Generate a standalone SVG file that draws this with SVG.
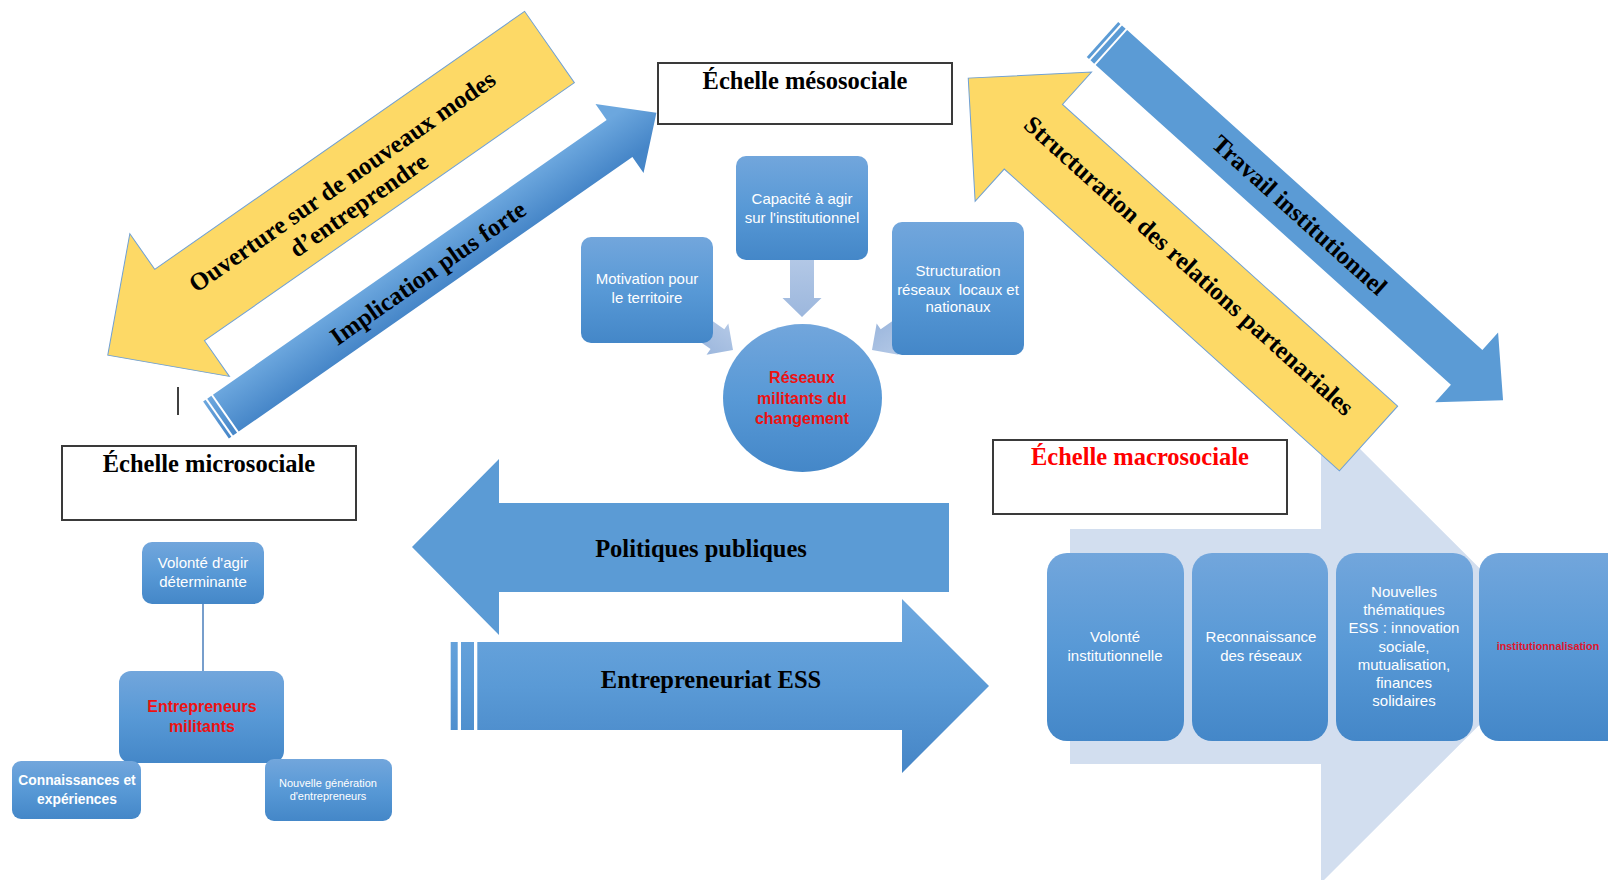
<svg xmlns="http://www.w3.org/2000/svg" width="1608" height="880" viewBox="0 0 1608 880">
<defs>
<linearGradient id="gBox" x1="0" y1="0" x2="0" y2="1">
<stop offset="0" stop-color="#72a6dc"/>
<stop offset="0.5" stop-color="#5899d6"/>
<stop offset="1" stop-color="#4487c8"/>
</linearGradient>
<linearGradient id="gH" gradientUnits="userSpaceOnUse" x1="0" y1="599" x2="0" y2="773">
<stop offset="0" stop-color="#6ea8df"/>
<stop offset="0.5" stop-color="#5a9ad6"/>
<stop offset="1" stop-color="#4585c6"/>
</linearGradient>
<linearGradient id="gImpl" gradientUnits="userSpaceOnUse" x1="0" y1="-22.5" x2="0" y2="22.5">
<stop offset="0" stop-color="#6ca7de"/>
<stop offset="1" stop-color="#4686c8"/>
</linearGradient>
<linearGradient id="gConn" x1="0" y1="0" x2="0" y2="1">
<stop offset="0" stop-color="#b3c8e6"/>
<stop offset="1" stop-color="#9cb7dd"/>
</linearGradient>
</defs>
<style>
.title{font-family:"Liberation Serif","Times New Roman",serif;font-weight:bold;font-size:24.5px;text-anchor:middle;fill:#000}
.alabel{font-family:"Liberation Serif","Times New Roman",serif;font-weight:bold;font-size:25px;text-anchor:middle;fill:#000}
.tbox{fill:#fff;stroke:#3a3a3a;stroke-width:2}
.node{fill:url(#gBox)}
.ntxt{font-family:"Liberation Sans",Arial,sans-serif;font-size:15px;fill:#fff;text-anchor:middle}
.red{fill:#ee1111;font-weight:bold}
.yarrow{fill:#fdd966;stroke:#6fa0d5;stroke-width:1}
.barrow{fill:#5b9bd5}
.conn{fill:url(#gConn)}
</style>

<!-- macro background arrow -->
<g id="macro-flow">
<polygon fill="#d2deef" points="1070,529 1321,529 1321,410 1558,646.5 1321,883 1321,764 1070,764"/>
</g>

<!-- connectors -->
<g id="connectors">
<polygon class="conn" points="790,258 814,258 814,298 821.5,298 802,317 782.5,298 790,298"/>
<polygon class="conn" transform="translate(733,350) rotate(35)" points="0,0 -19,19 -19,12 -60,12 -60,-12 -19,-12 -19,-19"/>
<polygon class="conn" transform="translate(872,350) rotate(145)" points="0,0 -19,19 -19,12 -60,12 -60,-12 -19,-12 -19,-19"/>
<line x1="203" y1="604" x2="203" y2="671" stroke="#4a7ebb" stroke-width="1.5"/>
<line x1="178" y1="387" x2="178" y2="415" stroke="#000" stroke-width="1.5"/>
</g>

<!-- big diagonal arrows -->
<g id="arrow-ouverture" transform="translate(549.5,47) rotate(-34.9)">
<polygon class="yarrow" points="0,-43.5 -451,-43.5 -451,-87 -538.6,0 -451,87 -451,43.5 0,43.5"/>
<text class="alabel" x="-247" y="0">Ouverture sur de nouveaux modes</text>
<text class="alabel" x="-247" y="28.6">d’entreprendre</text>
</g>
<g id="arrow-implication" transform="translate(216,420) rotate(-34.9)">
<rect x="0" y="-22.5" width="3" height="45" fill="url(#gImpl)"/>
<rect x="5" y="-22.5" width="5" height="45" fill="url(#gImpl)"/>
<polygon fill="url(#gImpl)" points="12,-22.5 492,-22.5 492,-42 537,0 492,42 492,22.5 12,22.5"/>
<text class="alabel" x="258" y="9">Implication plus forte</text>
</g>
<g id="arrow-travail" transform="translate(1102.5,39.5) rotate(42)">
<rect x="0" y="-23.5" width="3" height="47" class="barrow"/>
<rect x="5" y="-23.5" width="5" height="47" class="barrow"/>
<polygon class="barrow" points="12,-23.5 490,-23.5 490,-47 539,0 490,47 490,23.5 12,23.5"/>
<text class="alabel" x="264" y="7">Travail institutionnel</text>
</g>
<g id="arrow-structuration" transform="translate(1368.5,438.5) rotate(42)">
<polygon class="yarrow" points="0,-43.5 -451,-43.5 -451,-87 -538.6,0 -451,87 -451,43.5 0,43.5"/>
<text class="alabel" x="-249" y="0">Structuration des relations partenariales</text>
</g>

<!-- horizontal arrows -->
<g id="arrow-politiques">
<polygon class="barrow" points="949,503 499,503 499,459 412,547 499,635 499,592 949,592"/>
<text class="title" x="701" y="557">Politiques publiques</text>
</g>
<g id="arrow-entrepreneuriat">
<rect x="450.7" y="642" width="7" height="88" fill="url(#gH)"/>
<rect x="461" y="642" width="13" height="88" fill="url(#gH)"/>
<polygon fill="url(#gH)" points="477.3,642 902,642 902,599 989,686 902,773 902,730 477.3,730"/>
<text class="title" x="711" y="688">Entrepreneuriat ESS</text>
</g>

<!-- scale titles -->
<g id="title-meso">
<rect class="tbox" x="658" y="63" width="294" height="61"/>
<text class="title" x="805" y="89">Échelle mésosociale</text>
</g>
<g id="title-micro">
<rect class="tbox" x="62" y="446" width="294" height="74"/>
<text class="title" x="209" y="472">Échelle microsociale</text>
</g>
<g id="title-macro">
<rect class="tbox" x="993" y="440" width="294" height="74"/>
<text class="title" x="1140" y="465" fill="#ff0000" style="fill:#ff0000">Échelle macrosociale</text>
</g>

<!-- meso nodes -->
<g id="node-capacite">
<rect class="node" x="736" y="156" width="132" height="104" rx="10"/>
<text class="ntxt" x="802" y="204">Capacité à agir</text>
<text class="ntxt" x="802" y="223">sur l'institutionnel</text>
</g>
<g id="node-motivation">
<rect class="node" x="581" y="237" width="132" height="106" rx="10"/>
<text class="ntxt" x="647" y="284">Motivation pour</text>
<text class="ntxt" x="647" y="303">le territoire</text>
</g>
<g id="node-structuration">
<rect class="node" x="892" y="222" width="132" height="133" rx="10"/>
<text class="ntxt" x="958" y="276">Structuration</text>
<text class="ntxt" x="958" y="295" xml:space="preserve">réseaux  locaux et</text>
<text class="ntxt" x="958" y="312">nationaux</text>
</g>
<g id="node-reseaux">
<ellipse class="node" cx="802.5" cy="398" rx="79.5" ry="74"/>
<text class="ntxt red" x="802" y="383" font-size="16" style="font-size:16px">Réseaux</text>
<text class="ntxt red" x="802" y="404" style="font-size:16px">militants du</text>
<text class="ntxt red" x="802" y="424" style="font-size:16px">changement</text>
</g>

<!-- micro nodes -->
<g id="node-volonte-agir">
<rect class="node" x="142" y="542" width="122" height="62" rx="10"/>
<text class="ntxt" x="203" y="568">Volonté d'agir</text>
<text class="ntxt" x="203" y="587">déterminante</text>
</g>
<g id="node-entrepreneurs">
<rect class="node" x="119" y="671" width="165" height="92" rx="12"/>
<text class="ntxt red" x="202" y="712" style="font-size:16px">Entrepreneurs</text>
<text class="ntxt red" x="202" y="732" style="font-size:16px">militants</text>
</g>
<g id="node-connaissances">
<rect class="node" x="12" y="761" width="129" height="58" rx="9"/>
<text class="ntxt" x="77" y="785" style="font-size:13.8px;font-weight:bold">Connaissances et</text>
<text class="ntxt" x="77" y="804" style="font-size:13.8px;font-weight:bold">expériences</text>
</g>
<g id="node-nouvelle-generation">
<rect class="node" x="265" y="759" width="127" height="62" rx="9"/>
<text class="ntxt" x="328" y="787" style="font-size:11px">Nouvelle génération</text>
<text class="ntxt" x="328" y="800" style="font-size:11px">d'entrepreneurs</text>
</g>

<!-- macro nodes -->
<g id="node-volonte-inst">
<rect class="node" x="1047" y="553" width="137" height="188" rx="20"/>
<text class="ntxt" x="1115" y="642">Volonté</text>
<text class="ntxt" x="1115" y="661">institutionnelle</text>
</g>
<g id="node-reconnaissance">
<rect class="node" x="1192" y="553" width="136" height="188" rx="20"/>
<text class="ntxt" x="1261" y="642">Reconnaissance</text>
<text class="ntxt" x="1261" y="661">des réseaux</text>
</g>
<g id="node-thematiques">
<rect class="node" x="1336" y="553" width="137" height="188" rx="20"/>
<text class="ntxt" x="1404" y="597">Nouvelles</text>
<text class="ntxt" x="1404" y="615">thématiques</text>
<text class="ntxt" x="1404" y="633">ESS : innovation</text>
<text class="ntxt" x="1404" y="652">sociale,</text>
<text class="ntxt" x="1404" y="670">mutualisation,</text>
<text class="ntxt" x="1404" y="688">finances</text>
<text class="ntxt" x="1404" y="706">solidaires</text>
</g>
<g id="node-institutionnalisation">
<rect class="node" x="1479" y="553" width="150" height="188" rx="20"/>
<text class="ntxt" x="1548" y="650" style="font-size:10.8px;font-weight:bold;fill:#e0162b">institutionnalisation</text>
</g>
</svg>
